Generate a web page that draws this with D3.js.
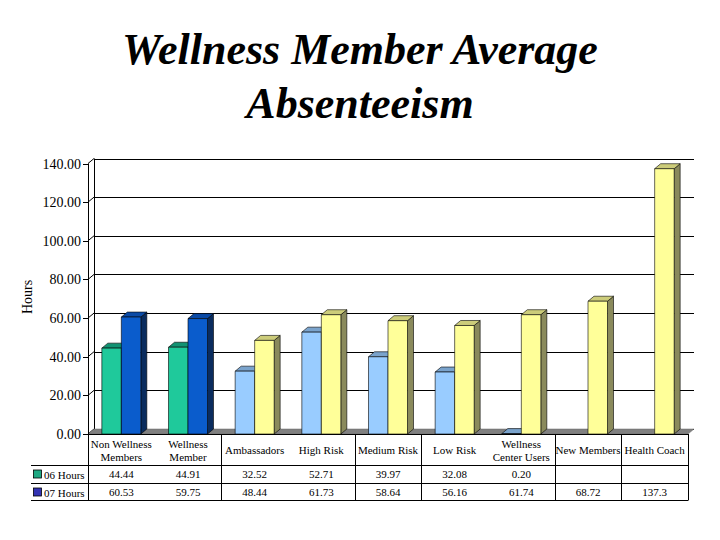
<!DOCTYPE html>
<html><head><meta charset="utf-8">
<script src="https://cdn.jsdelivr.net/npm/d3@7"></script>
<style>body{margin:0;background:#fff}svg{display:block}</style>
</head><body>
<svg id="c" width="720" height="540"></svg>
<script>
// ---- data ----
const titleLines = ["Wellness Member Average", "Absenteeism"];
const categories = ["Non Wellness|Members","Wellness|Member","Ambassadors","High Risk","Medium Risk","Low Risk","Wellness|Center Users","New Members","Health Coach"];
const seriesNames = ["06 Hours","07 Hours"];
const hours06 = [44.44, 44.91, 32.52, 52.71, 39.97, 32.08, 0.20, null, null];
const hours07 = [60.53, 59.75, 48.44, 61.73, 58.64, 56.16, 61.74, 68.72, 137.3];
const labels06 = ["44.44","44.91","32.52","52.71","39.97","32.08","0.20","",""];
const labels07 = ["60.53","59.75","48.44","61.73","58.64","56.16","61.74","68.72","137.3"];
const yTicks = [0,20,40,60,80,100,120,140];
const yAxisTitle = "Hours";

// ---- styles ----
const palettes = {
  dark: [{front:"#1fc99b",top:"#129272",side:"#0e6f56"},{front:"#0a5ccc",top:"#0a4aa6",side:"#0a2c5e"}],
  light:[{front:"#99ccff",top:"#7aa3cc",side:"#5c7a99"},{front:"#ffff99",top:"#cccc7a",side:"#8a8a5c"}]
};
const catPalette = ["dark","dark","light","light","light","light","light","light","light"];
const legendColors = ["#1fa882","#3333b3"];
const font = "'Liberation Serif','Times New Roman',serif";

const svg = d3.select("#c");
const X0 = 88, X1 = 688, DX = 6, DY = -5;
const x = d3.scaleBand().domain(categories).range([X0, X1]).paddingInner(0).paddingOuter(0);
const y = d3.scaleLinear().domain([0,140]).range([434,163.5]);
const fmt = d3.format(".2f");
const BW = 19.5;

// title
svg.append("g").selectAll("text").data(titleLines).join("text")
  .attr("x",360).attr("y",(d,i)=>64+i*54).attr("text-anchor","middle")
  .style("font-family",font).style("font-weight","bold").style("font-style","italic")
  .style("font-size","44px").text(d=>d);

// back wall gridlines
const g = svg.append("g").attr("stroke","#000").attr("stroke-width",1).attr("fill","none");
g.selectAll("line.grid").data(yTicks).join("line").attr("class","grid")
  .attr("x1",X0+DX).attr("x2",X1+DX).attr("y1",d=>Math.round(y(d)+DY)+0.5).attr("y2",d=>Math.round(y(d)+DY)+0.5);
// left wall diagonals
g.selectAll("line.lw").data(yTicks).join("line").attr("class","lw")
  .attr("x1",X0).attr("x2",X0+DX).attr("y1",d=>y(d)).attr("y2",d=>y(d)+DY);
// tick marks
g.selectAll("line.tk").data(yTicks).join("line").attr("class","tk")
  .attr("x1",X0-5).attr("x2",X0).attr("y1",d=>Math.round(y(d))+0.5).attr("y2",d=>Math.round(y(d))+0.5);
// back wall left edge
g.append("line").attr("x1",X0+DX+0.5).attr("x2",X0+DX+0.5).attr("y1",y(140)+DY).attr("y2",y(0)+DY);

// floor
svg.append("path").attr("fill","#808080").attr("stroke","#666").attr("stroke-width",0.5)
  .attr("d",`M${X0},${y(0)}L${X1},${y(0)}L${X1+DX},${y(0)+DY}L${X0+DX},${y(0)+DY}Z`);

// tick labels
svg.append("g").selectAll("text").data(yTicks).join("text")
  .attr("x",X0-7).attr("y",d=>y(d)+5).attr("text-anchor","end")
  .style("font-family",font).style("font-size","14px").text(d=>fmt(d));

// axis title
svg.append("text").attr("transform","translate(32,297) rotate(-90)").attr("text-anchor","middle")
  .style("font-family",font).style("font-size","14px").text(yAxisTitle);

// bars
const bars = [];
categories.forEach((c,i)=>{
  const cx = x(c)+x.bandwidth()/2;
  [hours06[i],hours07[i]].forEach((v,s)=>{
    if(v==null) return;
    bars.push({x: s===0? cx-BW : cx, v, pal: palettes[catPalette[i]][s]});
  });
});
const bg = svg.append("g");
bars.forEach(b=>{
  const xl=b.x, xr=b.x+BW, yt=y(b.v), yb=y(0);
  const gg = bg.append("g").attr("stroke","#000").attr("stroke-width",0.6).attr("stroke-linejoin","round");
  gg.append("path").attr("fill",b.pal.side).attr("d",`M${xr},${yt}L${xr+DX},${yt+DY}L${xr+DX},${yb+DY}L${xr},${yb}Z`);
  gg.append("path").attr("fill",b.pal.top).attr("d",`M${xl},${yt}L${xl+DX},${yt+DY}L${xr+DX},${yt+DY}L${xr},${yt}Z`);
  gg.append("rect").attr("fill",b.pal.front).attr("x",xl).attr("y",yt).attr("width",BW).attr("height",Math.max(0,yb-yt));
});

// front axis line (continues through table)
svg.append("line").attr("x1",X0+0.5).attr("x2",X0+0.5).attr("y1",y(140)).attr("y2",500).attr("stroke","#000");

// data table
const T0 = 434, T1 = 465.5, T2 = 483.5, T3 = 500.5, TL = 31;
const tg = svg.append("g").attr("stroke","#000").attr("stroke-width",1);
tg.append("line").attr("x1",X0).attr("x2",X1).attr("y1",T0+0.5).attr("y2",T0+0.5);
[T1,T2,T3].forEach(yy=>tg.append("line").attr("x1",TL).attr("x2",X1).attr("y1",yy).attr("y2",yy));
const sepIdx = [2,4,5,7,8];
tg.selectAll("line.sep").data(sepIdx).join("line").attr("class","sep")
  .attr("x1",i=>Math.round(x(categories[i]))+0.5).attr("x2",i=>Math.round(x(categories[i]))+0.5)
  .attr("y1",T0).attr("y2",T3);
tg.append("line").attr("x1",X1+0.5).attr("x2",X1+0.5).attr("y1",T0).attr("y2",T3);

const hg = svg.append("g").style("font-family",font).style("font-size","11px").attr("text-anchor","middle");
categories.forEach(c=>{
  const parts = c.split("|");
  const cx = x(c)+x.bandwidth()/2;
  parts.forEach((p,j)=>{
    const yy = parts.length===1 ? 454 : 448 + j*13;
    hg.append("text").attr("x",cx).attr("y",yy).text(p);
  });
});
[labels06,labels07].forEach((row,r)=>{
  row.forEach((t,i)=>{
    hg.append("text").attr("x",x(categories[i])+x.bandwidth()/2).attr("y",r===0?478:496).text(t);
  });
});
// legend cells
seriesNames.forEach((n,r)=>{
  const yy = r===0?T1:T2;
  svg.append("rect").attr("x",33.5).attr("y",yy+4.5).attr("width",8).attr("height",8)
    .attr("fill",legendColors[r]).attr("stroke","#000").attr("stroke-width",0.8);
  svg.append("text").attr("x",44).attr("y",yy+13).style("font-family",font).style("font-size","11px").text(n);
});
</script>
</body></html>
